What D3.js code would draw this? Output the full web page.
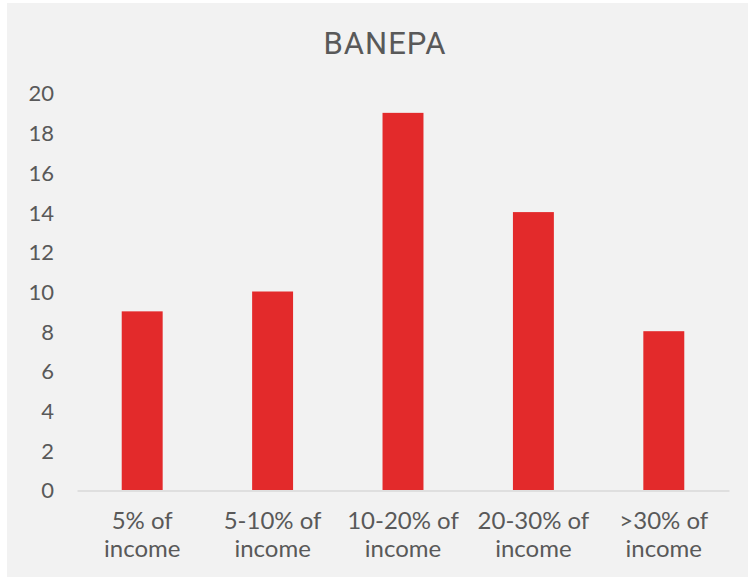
<!DOCTYPE html>
<html>
<head>
<meta charset="utf-8">
<script src="https://cdn.jsdelivr.net/npm/d3@7"></script>
<style>
  html, body { margin: 0; padding: 0; background: #ffffff; }
  svg { display: block; }
</style>
</head>
<body>
<div id="chart"></div>
<script>
// Share of income spent, Banepa respondents
const title = "BANEPA";
const categories = [
  ["5% of", "income"],
  ["5-10% of", "income"],
  ["10-20% of", "income"],
  ["20-30% of", "income"],
  [">30% of", "income"]
];
const values = [9, 10, 19, 14, 8];
const yTicks = [0, 2, 4, 6, 8, 10, 12, 14, 16, 18, 20];

const W = 748, H = 577;
const margin = { top: 93, right: 19, bottom: 87, left: 77 };

const svg = d3.select("#chart").append("svg")
  .attr("width", W).attr("height", H);

// chart area background
svg.append("rect")
  .attr("x", 7).attr("y", 3)
  .attr("width", W - 7).attr("height", H - 3)
  .attr("fill", "#f2f2f2");

const x = d3.scaleBand()
  .domain(d3.range(categories.length))
  .range([margin.left, W - margin.right])
  .paddingInner(0.686)
  .paddingOuter(0.343);

const y = d3.scaleLinear()
  .domain([0, 20])
  .range([H - margin.bottom, margin.top]);

const textColor = "#595959";
const fontFamily = "Lato, 'Open Sans', sans-serif";

// title
svg.append("text")
  .attr("x", 385).attr("y", 54)
  .attr("text-anchor", "middle")
  .attr("font-family", "Roboto, 'Liberation Sans', sans-serif")
  .attr("font-size", 31)
  .attr("letter-spacing", 1)
  .attr("fill", textColor)
  .text(title);

// y axis labels (no axis line, no ticks)
const yAxis = d3.axisLeft(y).tickValues(yTicks).tickSize(0).tickPadding(0);
const yg = svg.append("g")
  .attr("transform", `translate(${54},0)`)
  .call(yAxis);
yg.select(".domain").remove();
yg.selectAll("text")
  .attr("font-family", fontFamily)
  .attr("font-size", 22)
  .attr("fill", textColor)
  .attr("dy", "0.36em");

// bars
svg.append("g").selectAll("rect")
  .data(values)
  .join("rect")
  .attr("x", (d, i) => x(i))
  .attr("y", d => y(d))
  .attr("width", x.bandwidth())
  .attr("height", d => y(0) - y(d))
  .attr("fill", "#e32a2b");

// baseline
const xAxis = d3.axisBottom(x).tickSize(0).tickFormat(() => "");
const xg = svg.append("g")
  .attr("transform", `translate(0,${y(0) + 0.5})`)
  .call(xAxis);
xg.select(".domain")
  .attr("stroke", "#d9d9d9")
  .attr("stroke-width", 1.5);

// two-line category labels, centred under each tick
xg.selectAll(".tick").each(function(d) {
  const t = d3.select(this).append("text")
    .attr("text-anchor", "middle")
    .attr("font-family", fontFamily)
    .attr("font-size", 24)
    .attr("fill", textColor);
  categories[d].forEach((line, k) => {
    t.append("tspan")
      .attr("x", 0)
      .attr("y", 38 + k * 28)
      .text(line);
  });
});
</script>
</body>
</html>
